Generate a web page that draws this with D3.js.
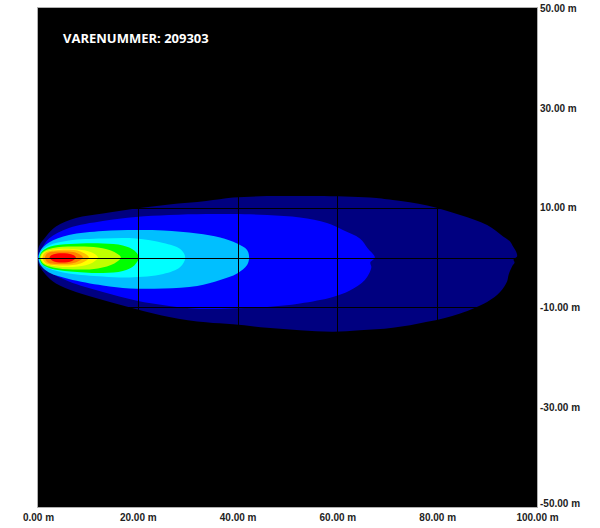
<!DOCTYPE html>
<html>
<head>
<meta charset="utf-8">
<script src="https://cdn.jsdelivr.net/npm/d3@7"></script>
<style>
  html, body { margin: 0; padding: 0; background: #ffffff; }
  svg { display: block; }
</style>
</head>
<body>
<svg id="chart" width="600" height="528"></svg>
<script>
// ---- data (metres) ----
const title = "VARENUMMER: 209303";
const xTicks = [0, 20, 40, 60, 80, 100];
const yTicks = [50, 30, 10, -10, -30, -50];
const xGrid = [20, 40, 60, 80];
const yGrid = [30, 10, 0, -10, -30];

const levelColors = ["#000080", "#0000ff", "#00bfff", "#00ffff", "#00ff00", "#bfff00", "#ffff00", "#ffbf00", "#ff8000", "#ff0000"];

const navyContour = [[0,0],[0.2,2.2],[1.6,4.2],[3.6,6.2],[7.6,7.9],[13.0,8.8],[19.6,9.8],[26.3,10.6],[33.7,11.3],[39.1,12.0],[45.9,12.3],[55.9,12.3],[66.5,12.0],[71.1,11.5],[78.0,10.4],[84.6,8.5],[90.0,6.5],[93.2,4.2],[94.6,3.2],[95.2,2.2],[95.8,1.2],[96.0,0.2],[95.3,-0.4],[95.5,-1.0],[95.0,-1.8],[94.3,-3.5],[94.0,-4.8],[92.6,-6.9],[90.0,-8.9],[84.6,-11.2],[78.0,-12.9],[71.1,-14.1],[64.5,-14.6],[59.1,-14.9],[52.5,-14.6],[45.9,-14.1],[39.1,-13.4],[33.7,-13.0],[26.3,-11.9],[19.6,-10.3],[13.0,-8.5],[7.6,-6.9],[3.6,-5.2],[1.6,-3.5],[0.2,-1.5]];
const blueContour = [[0,0],[0.6,1.5],[2.2,3.8],[6.2,5.9],[13.0,7.3],[19.6,8.1],[26.3,8.5],[33.7,8.7],[39.1,8.7],[45.9,8.5],[52.5,8.0],[57.9,6.9],[61.1,5.5],[64.5,3.8],[66.1,1.8],[67.5,0],[66.6,-1.0],[66.8,-2.0],[65.5,-4.5],[62.5,-6.6],[59.1,-7.9],[52.5,-9.2],[45.9,-9.9],[39.1,-10.2],[32.5,-10.3],[26.3,-9.7],[19.6,-8.6],[13.0,-6.9],[6.2,-4.8],[2.2,-2.8],[0.6,-1.2]];
const deepSkyContour = [[0.1,0],[0.5,1.4],[2.2,3.0],[6.2,4.5],[13,5.3],[19.6,5.5],[25.1,5.4],[31.9,4.8],[36.5,4.0],[39.9,2.8],[41.9,1.5],[42.3,0],[41.9,-1.5],[39.9,-3.2],[36.5,-4.5],[31.9,-5.7],[25.1,-6.2],[18.4,-6.2],[13,-5.6],[6.2,-4.3],[2.2,-3.0],[0.5,-1.5]];
const cyanContour = [[0.2,0],[0.6,1.2],[2.2,2.4],[6.2,3.4],[13,3.8],[19.6,3.8],[25.1,2.9],[28.5,1.7],[29.5,0],[28.5,-1.9],[25.1,-3.3],[18.4,-4.0],[13,-3.8],[6.2,-3.2],[2.2,-2.2],[0.6,-1.2]];
const greenContour = [[0.3,0],[0.8,1.2],[2.5,2.2],[6.5,2.7],[13,2.8],[17,2.4],[19.3,1.4],[20.2,0],[19.3,-1.6],[17,-2.7],[13,-3.1],[6.5,-2.8],[2.5,-2.2],[0.8,-1.3]];
const yellowGreenContour = [[0.4,0],[1,1.1],[3,1.9],[7,2.2],[12,2.0],[15.3,1.1],[16.6,0],[15.3,-1.2],[12,-2.2],[7,-2.4],[3,-2.0],[1,-1.2]];
const yellowContour = [[0.6,0],[1.2,1.0],[4,1.7],[8,1.6],[10.8,1.0],[12,0],[10.8,-1.1],[8,-1.8],[4,-1.8],[1.2,-1.1]];
const lightOrangeContour = [[0.9,0],[1.5,1.0],[4.5,1.5],[8.5,1.2],[10.2,0],[8.5,-1.2],[4.5,-1.6],[1.5,-1.1]];
const orangeContour = [[1.4,0],[2,0.9],[4.5,1.2],[7.5,1.0],[9.0,0],[7.5,-1.0],[4.5,-1.3],[2,-1.0]];
const redContour = [[2.3,0],[3,0.6],[4.8,0.85],[6.8,0.6],[7.6,0],[6.8,-0.7],[4.8,-1.0],[3,-0.7]];

const contours = [navyContour, blueContour, deepSkyContour, cyanContour, greenContour, yellowGreenContour, yellowContour, lightOrangeContour, orangeContour, redContour];

// ---- drawing ----
const svg = d3.select("#chart");
const x = d3.scaleLinear().domain([0, 100]).range([38, 537]);
const y = d3.scaleLinear().domain([50, -50]).range([8, 507]);

svg.append("rect")
  .attr("x", x(0)).attr("y", y(50))
  .attr("width", x(100) - x(0)).attr("height", y(-50) - y(50))
  .attr("fill", "#000");

const line = d3.line()
  .x(d => x(d[0])).y(d => y(d[1]))
  .curve(d3.curveCatmullRomClosed.alpha(0.5));

svg.append("g").selectAll("path")
  .data(contours)
  .join("path")
  .attr("d", d => line(d))
  .attr("fill", (d, i) => levelColors[i])
  .attr("stroke", "none");

// grid
const grid = svg.append("g").attr("stroke", "#000").attr("stroke-width", 1);
grid.selectAll("line.v").data(xGrid).join("line").attr("class", "v")
  .attr("x1", d => Math.round(x(d)) + 0.5).attr("x2", d => Math.round(x(d)) + 0.5)
  .attr("y1", y(50)).attr("y2", y(-50));
grid.selectAll("line.h").data(yGrid).join("line").attr("class", "h")
  .attr("y1", d => Math.round(y(d)) + 0.5).attr("y2", d => Math.round(y(d)) + 0.5)
  .attr("x1", x(0)).attr("x2", x(100));

// frame
svg.append("rect")
  .attr("x", x(0) - 0.5).attr("y", y(50) - 0.5)
  .attr("width", x(100) - x(0) + 1).attr("height", y(-50) - y(50) + 1)
  .attr("fill", "none").attr("stroke", "#b0b0b0").attr("stroke-width", 1);

// axes
const fmt = d => d.toFixed(2) + " m";
const xAxis = svg.append("g")
  .attr("transform", `translate(0, 514)`)
  .call(d3.axisBottom(x).tickValues(xTicks).tickFormat(fmt).tickSize(0).tickPadding(0));
xAxis.select(".domain").remove();
xAxis.selectAll("text")
  .attr("font-family", "'Liberation Sans', Arial, sans-serif")
  .attr("font-size", 10).attr("font-weight", "bold").attr("fill", "#222");

const yAxis = svg.append("g")
  .attr("transform", `translate(540, 0)`)
  .call(d3.axisRight(y).tickValues(yTicks).tickFormat(fmt).tickSize(0).tickPadding(0));
yAxis.select(".domain").remove();
yAxis.selectAll("text")
  .attr("font-family", "'Liberation Sans', Arial, sans-serif")
  .attr("font-size", 10).attr("font-weight", "bold").attr("fill", "#222")
  .attr("dy", d => d === -50 ? "-0.1em" : "0.32em");

// title
svg.append("text")
  .attr("x", 63).attr("y", 43)
  .attr("font-family", "'Open Sans', sans-serif")
  .attr("font-size", 13).attr("font-weight", "bold")
  .attr("fill", "#fff")
  .text(title);
</script>
</body>
</html>
